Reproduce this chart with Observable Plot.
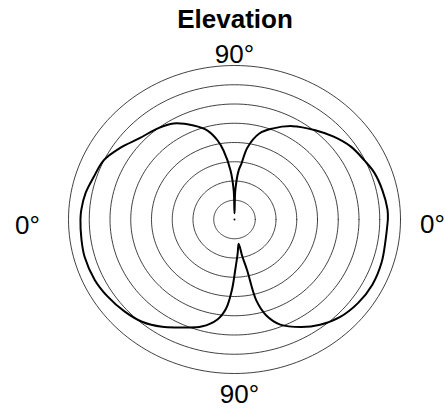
<!DOCTYPE html>
<html>
<head>
<meta charset="utf-8">
<script src="https://cdn.jsdelivr.net/npm/d3@7"></script>
<script src="https://cdn.jsdelivr.net/npm/@observablehq/plot@0.6"></script>
<style>
  html, body { margin: 0; padding: 0; background: #fff; }
  #wrap { width: 445px; height: 410px; overflow: hidden; font-family: "Liberation Sans", Arial, sans-serif; }
  #title { box-sizing: border-box; width: 445px; height: 34px; padding-left: 25px; text-align: center;
           font: bold 26px "Liberation Sans", Arial, sans-serif; line-height: 38px; color: #000; }
</style>
</head>
<body>
<div id="wrap">
  <div id="title">Elevation</div>
  <div id="chart"></div>
</div>
<script>
// Pattern: angle in degrees (0 = right, 90 = top, counter-clockwise) and normalized radius
const patternAngles = [0, 4, 12, 20, 26, 34, 42, 50, 60, 69, 75, 80.5, 83.4, 85.5, 88.5, 90, 91.5, 94.3, 98.4, 101.2,
  105.7, 112, 120.5, 128, 137, 146, 154, 162, 169, 176, 180, 188, 195, 205, 213, 222, 230, 238, 245.5, 254,
  261, 265, 268, 271, 275, 279, 281, 283, 284, 287, 292, 300, 307, 315, 324, 333, 342.5, 351.5, 360];
const patternRadii = [0.924, 0.924, 0.911, 0.895, 0.872, 0.846, 0.804, 0.757, 0.700, 0.632, 0.578, 0.474, 0.366, 0.32, 0.19, 0.04, 0.19, 0.319, 0.453, 0.523,
  0.600, 0.658, 0.724, 0.751, 0.777, 0.831, 0.877, 0.892, 0.913, 0.925, 0.928, 0.931, 0.935, 0.929, 0.914, 0.892, 0.867, 0.822, 0.770, 0.723,
  0.657, 0.58, 0.46, 0.32, 0.22, 0.16, 0.24, 0.34, 0.54, 0.65, 0.736, 0.806, 0.856, 0.897, 0.921, 0.932, 0.929, 0.92, 0.924];
// Grid rings (normalized radius)
const ringRadii = [0.125, 0.25, 0.375, 0.5, 0.625, 0.75, 0.875, 1];
// Angle labels
const labelText = ["90°", "90°", "0°", "0°"];
const labelAngles = [90, 270, 180, 0];

const rad = Math.PI / 180;
const ringPts = [];
for (const r of ringRadii) {
  for (let a = 0; a <= 360; a += 2) ringPts.push({ring: r, x: r * Math.cos(a * rad), y: r * Math.sin(a * rad)});
}
const pattern = patternAngles.map((a, i) => ({x: patternRadii[i] * Math.cos(a * rad), y: patternRadii[i] * Math.sin(a * rad)}));
const labels = labelText.map((t, i) => ({text: t, x: Math.round(Math.cos(labelAngles[i] * rad)), y: Math.round(Math.sin(labelAngles[i] * rad))}));

const font = {fontFamily: "Liberation Sans, Arial, sans-serif", fontSize: 26, fill: "#000", lineAnchor: "bottom", textAnchor: "middle"};

const chart = Plot.plot({
  width: 445,
  height: 376,
  marginLeft: 68,
  marginRight: 45,
  marginTop: 31,
  marginBottom: 37,
  x: {domain: [-1, 1], axis: null},
  y: {domain: [-1, 1], axis: null},
  style: {background: "#fff", overflow: "visible"},
  marks: [
    Plot.line(ringPts, {x: "x", y: "y", z: "ring", stroke: "#111", strokeWidth: 0.8}),
    Plot.dot([{x: 0, y: 0}], {x: "x", y: "y", r: 1, fill: "#000", stroke: null}),
    Plot.line(pattern, {x: "x", y: "y", stroke: "#000", strokeWidth: 2, strokeLinejoin: "round", curve: "catmull-rom"}),
    Plot.text(labels.filter(d => d.y === 1), {x: "x", y: "y", text: "text", dy: -3, ...font}),
    Plot.text(labels.filter(d => d.y === -1), {x: "x", y: "y", text: "text", dy: 29, dx: 5, ...font}),
    Plot.text(labels.filter(d => d.x === -1), {x: "x", y: "y", text: "text", dx: -41, dy: 14, ...font}),
    Plot.text(labels.filter(d => d.x === 1), {x: "x", y: "y", text: "text", dx: 32, dy: 13, ...font})
  ]
});
document.getElementById("chart").appendChild(chart);
</script>
</body>
</html>
